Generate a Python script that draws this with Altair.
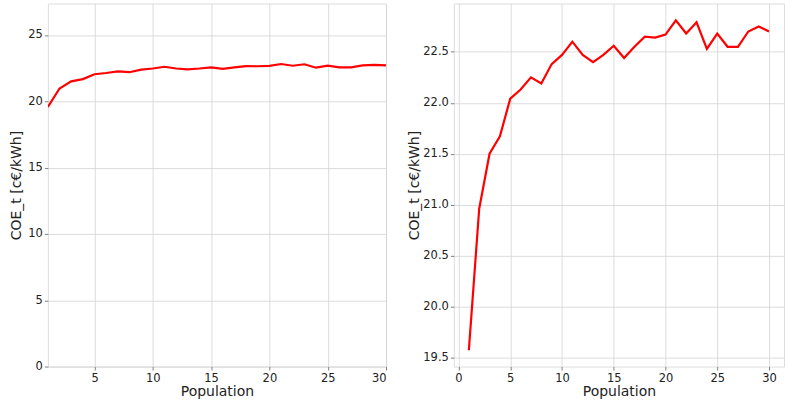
import altair as alt
import pandas as pd

# Population size (x) and resulting COE_t values
population = list(range(1, 31))
coe_t = [19.57, 20.96, 21.50, 21.67, 22.04, 22.13, 22.25, 22.19, 22.38, 22.47,
         22.60, 22.47, 22.40, 22.47, 22.56, 22.44, 22.55, 22.65, 22.64, 22.67,
         22.81, 22.68, 22.79, 22.53, 22.68, 22.55, 22.55, 22.70, 22.75, 22.70]

df = pd.DataFrame({"Population": population, "COE": coe_t})

FONT = "DejaVu Sans"
Y_TITLE = "COE_t [c€/kWh]"

axis_style = dict(
    labelFont=FONT, labelFontSize=11.5, labelColor="#222222",
    titleFont=FONT, titleFontSize=14, titleFontWeight="normal", titleColor="#222222",
    tickSize=3.5, tickColor="#808080", tickWidth=1, labelPadding=2, domain=False,
    grid=True, gridColor="#d3d3d3", gridWidth=0.8,
)

# Left panel: full scale from zero
left = alt.Chart(df).mark_line(color="#ff0000", strokeWidth=2.2, clip=True).encode(
    x=alt.X("Population:Q",
            scale=alt.Scale(domain=[1, 30], nice=False, zero=False),
            axis=alt.Axis(values=[5, 10, 15, 20, 25, 30], title="Population",
                          titlePadding=1, **axis_style)),
    y=alt.Y("COE:Q",
            scale=alt.Scale(domain=[0, 27.37], nice=False),
            axis=alt.Axis(values=[0, 5, 10, 15, 20, 25], title=Y_TITLE,
                          titlePadding=4, **axis_style)),
).properties(width=339, height=364)

# Right panel: zoomed on the data range
right = alt.Chart(df).mark_line(color="#ff0000", strokeWidth=2.2, clip=True).encode(
    x=alt.X("Population:Q",
            scale=alt.Scale(domain=[-0.45, 31.45], nice=False, zero=False),
            axis=alt.Axis(values=[0, 5, 10, 15, 20, 25, 30], title="Population",
                          titlePadding=1, **axis_style)),
    y=alt.Y("COE:Q",
            scale=alt.Scale(domain=[19.41, 22.975], nice=False, zero=False),
            axis=alt.Axis(values=[19.5, 20.0, 20.5, 21.0, 21.5, 22.0, 22.5],
                          format=".1f", title=Y_TITLE, titlePadding=1, **axis_style)),
).properties(width=331, height=364)

chart = alt.hconcat(left, right, spacing=20).configure_view(
    stroke="#808080", strokeWidth=1.2
).configure(
    padding={"left": 9, "top": 2, "right": 0, "bottom": 0},
    background="white",
)

chart.save("out.html", embed_options={"renderer": "svg", "actions": False})
